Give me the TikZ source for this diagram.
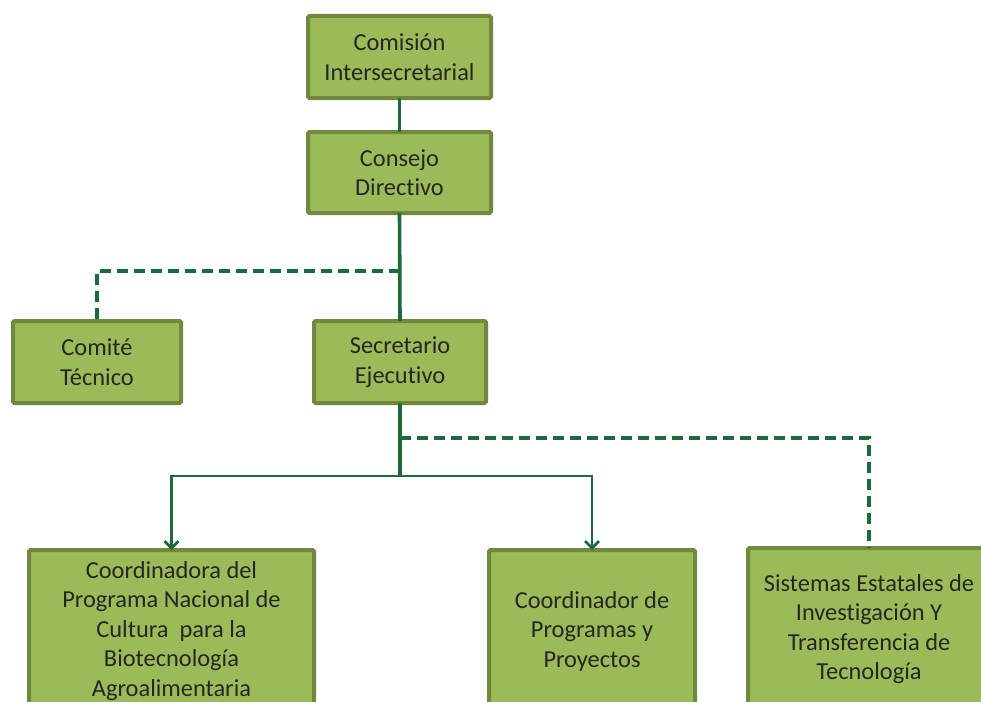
\documentclass[tikz,border=0pt]{standalone}
\usepackage{fontspec}
\setmainfont[Ligatures=NoCommon]{Carlito}
\usetikzlibrary{arrows.meta}
\definecolor{boxfill}{HTML}{9BBB59}
\definecolor{boxline}{HTML}{71893F}
\definecolor{linkgreen}{HTML}{1D6B38}
\definecolor{txt}{HTML}{262626}
\begin{document}
\begin{tikzpicture}[x=1pt,y=-1pt,
  unit/.style={draw=boxline, fill=boxfill, line width=4pt, rounded corners=1.5pt,
    text=txt, font=\fontsize{24.4}{29.5}\selectfont, align=center,
    inner sep=0pt, outer sep=0pt},
  solidlink/.style={draw=linkgreen, line width=3.6pt},
  dashlink/.style={draw=linkgreen, line width=4.5pt, dash pattern=on 11pt off 6pt},
  arrowlink/.style={draw=linkgreen, line width=2.8pt, -{Straight Barb[length=7pt,width=14pt,line width=2.8pt]}}
]
\useasboundingbox (0,0) rectangle (981,701);
\clip (0,0) rectangle (981,701);

% upper units
\node[unit, minimum width=183pt, minimum height=82pt] (com) at (399.5,57) {Comisión\\Intersecretarial};
\node[unit, minimum width=183pt, minimum height=81pt] (con) at (399.5,172.5) {Consejo\\Directivo};
\node[unit, minimum width=168pt, minimum height=82pt] (tec) at (97,362) {Comité\\Técnico};
\node[unit, minimum width=172pt, minimum height=82pt] (sec) at (400,362) {Secretario\\Ejecutivo};

% lower units (run past the lower edge)
\node[unit, minimum width=285pt, minimum height=162pt] (cpn) at (171.5,631) {Coordinadora del\\Programa Nacional de\\Cultura\ \ para la\\Biotecnología\\Agroalimentaria};
\node[unit, minimum width=206pt, minimum height=162pt] (cpp) at (592,631) {Coordinador de\\Programas y\\Proyectos};
\node[unit, minimum width=242pt, minimum height=162pt] (set) at (869,629) {Sistemas Estatales de\\Investigación Y\\Transferencia de\\Tecnología};

% junction points
\coordinate (j1) at (400,271);
\coordinate (j2) at (400,438);
\coordinate (j3) at (400,476);

% solid chain
\draw[solidlink] (com.south) -- (con.north);
\draw[solidlink] (con.south) -- (sec.north);
\draw[solidlink] (sec.south) -- (j3);

% dashed links
\draw[dashlink] (j1) -| (tec.north);
\draw[dashlink] (j2) -| (set.north);

% arrows to coordinators
\draw[arrowlink] (j3) -| (cpn.north);
\draw[arrowlink] (j3) -| (cpp.north);
\end{tikzpicture}
\end{document}
